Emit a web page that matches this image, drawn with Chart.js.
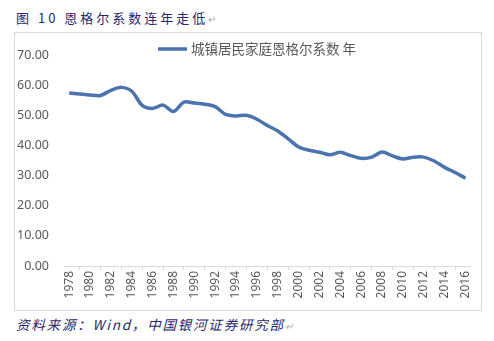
<!DOCTYPE html>
<html>
<head>
<meta charset="utf-8">
<script src="https://cdn.jsdelivr.net/npm/chart.js@4"></script>
<style>
  body { margin: 0; background: #fff; width: 494px; height: 341px; position: relative; overflow: hidden; }
  #titulo { position: absolute; left: 16px; top: 8px; font: 13px "Noto Sans CJK SC"; color: #27276e; letter-spacing: 3px; white-space: nowrap; }
  #fuente { position: absolute; left: 16px; top: 314px; font: italic 13.5px "Noto Sans CJK SC"; color: #27276e; letter-spacing: 1.8px; white-space: nowrap; }
  .marca { color: #aaa; font-size: 10px; letter-spacing: 0; }
  #caja { position: absolute; left: 14px; top: 32px; width: 466px; height: 277px; border: 1px solid #d9d9d9; }
</style>
</head>
<body>
<div id="titulo">图 10 恩格尔系数连年走低<span class="marca">↵</span></div>
<div id="caja"><canvas id="graficoLineas"></canvas></div>
<div id="fuente">资料来源：Wind，中国银河证券研究部<span class="marca">↵</span></div>
<script>
// datos
const anios = [];
for (let a = 1978; a <= 2016; a++) anios.push(String(a));
const engel = [57.5, 57.2, 56.9, 56.7, 58.4, 59.4, 58.1, 53.4, 52.4, 53.5, 51.4, 54.5, 54.2, 53.8, 53.0, 50.4, 49.9, 50.1, 48.8, 46.7, 44.9, 42.3, 39.6, 38.5, 37.8, 37.0, 37.8, 36.7, 35.8, 36.2, 37.9, 36.6, 35.6, 36.2, 36.2, 34.9, 32.8, 31.1, 29.2];
const etiquetaSerie = '城镇居民家庭恩格尔系数 年';
const marcasY = [0, 10, 20, 30, 40, 50, 60, 70];

// leyenda dibujada encima del area del grafico
const leyendaPlugin = {
    id: 'leyendaPropia',
    afterDraw(chart) {
        const ctx = chart.ctx;
        const ds = chart.data.datasets[0];
        ctx.save();
        ctx.strokeStyle = ds.borderColor;
        ctx.lineWidth = 3.5;
        ctx.beginPath();
        ctx.moveTo(143, 16);
        ctx.lineTo(172, 16);
        ctx.stroke();
        ctx.fillStyle = '#595959';
        ctx.font = '13.5px "Noto Sans CJK SC"';
        ctx.textBaseline = 'middle';
        ctx.fillText(ds.label, 176, 16);
        ctx.restore();
    }
};

const ctxLineas = document.getElementById('graficoLineas').getContext('2d');
const graficoLineas = new Chart(ctxLineas, {
    type: 'line',
    data: {
        labels: anios,
        datasets: [{
            label: etiquetaSerie,
            data: engel,
            borderColor: '#4a73b0',
            borderWidth: 3.5,
            pointRadius: 0,
            tension: 0.3,
            fill: false
        }]
    },
    plugins: [leyendaPlugin],
    options: {
        responsive: true,
        maintainAspectRatio: false,
        animation: false,
        layout: { padding: { left: 0, right: 9, top: 13, bottom: 0 } },
        plugins: {
            legend: { display: false },
            tooltip: { enabled: false }
        },
        scales: {
            x: {
                offset: true,
                grid: { offset: true, drawOnChartArea: false, drawTicks: true, tickLength: 4, color: '#d9d9d9' },
                border: { display: true, color: '#d9d9d9' },
                ticks: {
                    autoSkip: false,
                    minRotation: 90,
                    maxRotation: 90,
                    padding: 1,
                    color: '#595959',
                    font: { family: 'Noto Sans', size: 12 },
                    callback: function (v, i) { return i % 2 === 0 ? this.getLabelForValue(v) : null; }
                },
                afterFit(scale) { scale.height = 44; }
            },
            y: {
                min: marcasY[0],
                max: marcasY[marcasY.length - 1],
                grid: { display: false, drawTicks: false },
                border: { display: false },
                ticks: {
                    stepSize: 10,
                    padding: 15,
                    color: '#595959',
                    font: { family: 'Noto Sans', size: 12.5 },
                    callback: v => v.toFixed(2)
                },
                afterFit(scale) { scale.width = 49; }
            }
        }
    }
});
</script>
</body>
</html>
